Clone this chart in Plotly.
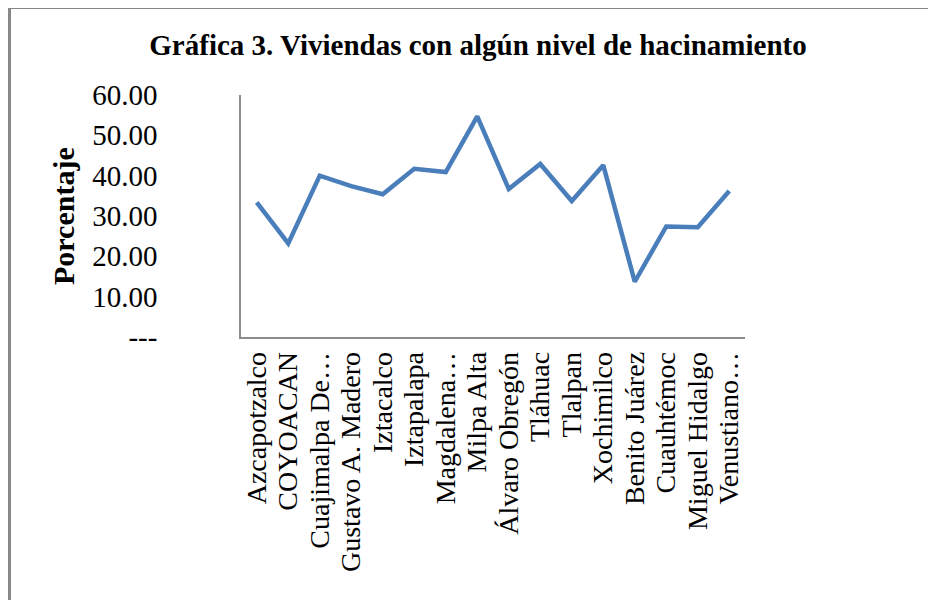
import plotly.graph_objects as go

categories = ["Azcapotzalco", "COYOACAN", "Cuajimalpa De Morelos", "Gustavo A. Madero",
              "Iztacalco", "Iztapalapa", "Magdalena Contreras", "Milpa Alta",
              "Álvaro Obregón", "Tláhuac", "Tlalpan", "Xochimilco", "Benito Juárez",
              "Cuauhtémoc", "Miguel Hidalgo", "Venustiano Carranza"]
tick_labels = ["Azcapotzalco", "COYOACAN", "Cuajimalpa De…", "Gustavo A. Madero",
               "Iztacalco", "Iztapalapa", "Magdalena…", "Milpa Alta",
               "Álvaro Obregón", "Tláhuac", "Tlalpan", "Xochimilco", "Benito Juárez",
               "Cuauhtémoc", "Miguel Hidalgo", "Venustiano…"]
values = [33.4, 23.2, 40.0, 37.4, 35.4, 41.7, 40.9, 54.7,
          36.7, 42.9, 33.7, 42.6, 13.7, 27.4, 27.2, 36.2]
y_ticks = [0, 10, 20, 30, 40, 50, 60]
y_tick_labels = ["---", "10.00", "20.00", "30.00", "40.00", "50.00", "60.00"]

SERIF = "Liberation Serif, Times New Roman, serif"
OFF = 8  # default page body margin
W, H = 936 - OFF, 600 - OFF
L, T, PW, PH = 241 - OFF, 95 - OFF, 504, 242

fig = go.Figure()
fig.add_trace(go.Scatter(
    x=categories, y=values, mode="lines",
    line=dict(color="#4a7ebb", width=4.5),
    hoverinfo="x+y", showlegend=False,
))

fig.update_layout(
    width=W, height=H,
    margin=dict(l=L, r=W - L - PW, t=T, b=H - T - PH, pad=0),
    paper_bgcolor="white", plot_bgcolor="white",
    font=dict(family=SERIF, color="black"),
    title=dict(text="<b>Gráfica 3. Viviendas con algún nivel de hacinamiento</b>",
               x=(478 - OFF) / W, xanchor="center", y=1 - (45 - OFF) / H, yanchor="middle",
               font=dict(family=SERIF, size=29, color="black")),
    xaxis=dict(
        type="category", tickmode="array", tickvals=categories, ticktext=tick_labels,
        range=[-0.5, len(categories) - 0.5],
        tickangle=-90, tickfont=dict(family=SERIF, size=28, color="black"),
        showline=True, linecolor="#8c8c8c", linewidth=1.5,
        showgrid=False, zeroline=False, ticks="",
        ticklabelstandoff=2,
    ),
    yaxis=dict(
        range=[0, 60], tickmode="array", tickvals=y_ticks, ticktext=y_tick_labels,
        tickfont=dict(family=SERIF, size=29, color="black"),
        showline=True, linecolor="#8c8c8c", linewidth=1.5,
        showgrid=False, zeroline=False, ticks="",
        ticklabelstandoff=76,
    ),
    annotations=[dict(
        text="<b>Porcentaje</b>", textangle=-90,
        xref="paper", yref="paper", x=(63 - 241) / PW, y=(337 - 216) / PH,
        xanchor="center", yanchor="middle", showarrow=False,
        font=dict(family=SERIF, size=30, color="black"),
    )],
    shapes=[
        dict(type="line", xref="paper", yref="paper",
             x0=(9.5 - 241) / PW, x1=1.6, y0=(337 - 7.5) / PH, y1=(337 - 7.5) / PH,
             line=dict(color="#888888", width=3)),
        dict(type="line", xref="paper", yref="paper",
             x0=(9.5 - 241) / PW, x1=(9.5 - 241) / PW, y0=(337 - 6) / PH, y1=-1.3,
             line=dict(color="#888888", width=3)),
    ],
)

fig.write_html("out.html")
